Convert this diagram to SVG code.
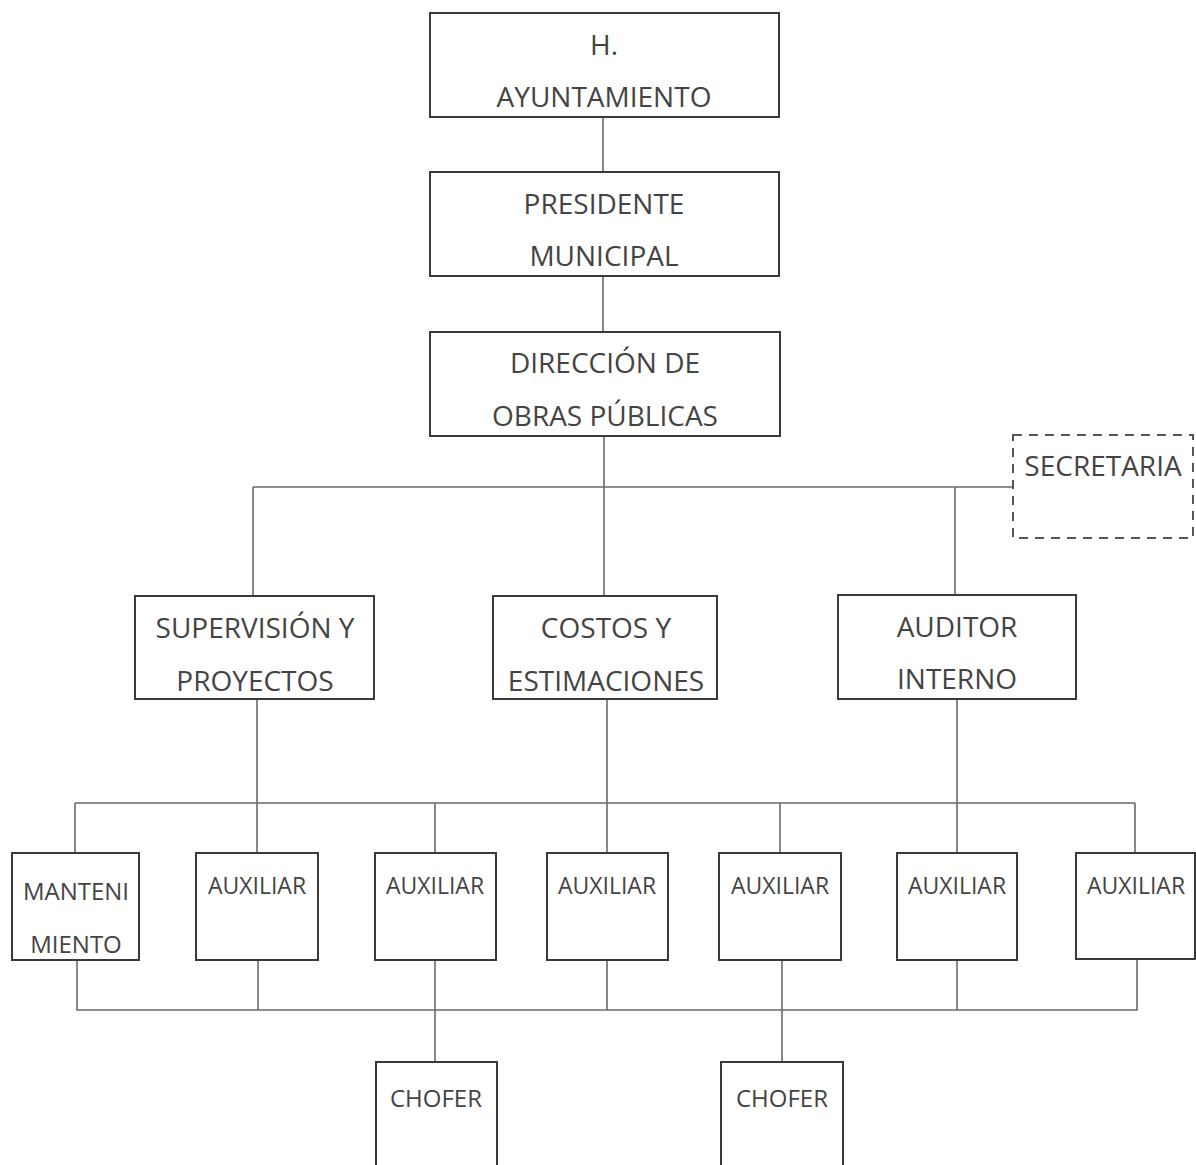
<svg xmlns="http://www.w3.org/2000/svg" width="1196" height="1165" viewBox="0 0 1196 1165">
<style>
.box{fill:#fff;stroke:#3a3a3a;stroke-width:2}
.dash{fill:#fff;stroke:#555;stroke-width:2;stroke-dasharray:9 7}
.t{font-family:"Open Sans","Liberation Sans",sans-serif;fill:#444;text-anchor:middle}
.l{font-size:28px}
.s{font-size:23px}
.m{font-size:24px}
#connectors path{fill:none;stroke:#6a6a6a;stroke-width:1.6}
</style>
<rect width="1196" height="1165" fill="#fff"/>
<g id="connectors">
<path d="M603 117V172M603 276V332M604 436V597"/>
<path d="M253 487H1013M253 487V596M955 487V595"/>
<path d="M257 699V853M607 699V853M957 699V853"/>
<path d="M75 803H1135M75 803V853M435 803V853M780 803V853M1135 803V853"/>
<path d="M77 960V1010H1137V958M258 960V1010M607 960V1010M957 960V1010"/>
<path d="M435 960V1062M782 960V1062"/>
</g>
<g id="n-ayuntamiento"><rect class="box" x="430" y="13" width="349" height="104"/><text class="t l" x="604" y="55">H.</text><text class="t l" x="604" y="107">AYUNTAMIENTO</text></g>
<g id="n-presidente"><rect class="box" x="430" y="172" width="349" height="104"/><text class="t l" x="604" y="214">PRESIDENTE</text><text class="t l" x="604" y="266">MUNICIPAL</text></g>
<g id="n-direccion"><rect class="box" x="430" y="332" width="350" height="104"/><text class="t l" x="605" y="373">DIRECCIÓN DE</text><text class="t l" x="605" y="426">OBRAS PÚBLICAS</text></g>
<g id="n-secretaria"><rect class="dash" x="1013" y="435" width="180" height="103"/><text class="t l" x="1103" y="476">SECRETARIA</text></g>
<g id="n-supervision"><rect class="box" x="135" y="596" width="239" height="103"/><text class="t l" x="255" y="638">SUPERVISIÓN Y</text><text class="t l" x="255" y="691">PROYECTOS</text></g>
<g id="n-costos"><rect class="box" x="493" y="596" width="224" height="103"/><text class="t l" x="606" y="638">COSTOS Y</text><text class="t l" x="606" y="691">ESTIMACIONES</text></g>
<g id="n-auditor"><rect class="box" x="838" y="595" width="238" height="104"/><text class="t l" x="957" y="637">AUDITOR</text><text class="t l" x="957" y="689">INTERNO</text></g>
<g id="n-mantenimiento"><rect class="box" x="12" y="853" width="127" height="107"/><text class="t m" x="76" y="900">MANTENI</text><text class="t m" x="76" y="953">MIENTO</text></g>
<g id="n-aux1"><rect class="box" x="196" y="853" width="122" height="107"/><text class="t s" x="257" y="894">AUXILIAR</text></g>
<g id="n-aux2"><rect class="box" x="375" y="853" width="121" height="107"/><text class="t s" x="435" y="894">AUXILIAR</text></g>
<g id="n-aux3"><rect class="box" x="547" y="853" width="121" height="107"/><text class="t s" x="607" y="894">AUXILIAR</text></g>
<g id="n-aux4"><rect class="box" x="719" y="853" width="122" height="107"/><text class="t s" x="780" y="894">AUXILIAR</text></g>
<g id="n-aux5"><rect class="box" x="897" y="853" width="120" height="107"/><text class="t s" x="957" y="894">AUXILIAR</text></g>
<g id="n-aux6"><rect class="box" x="1076" y="853" width="119" height="106"/><text class="t s" x="1136" y="894">AUXILIAR</text></g>
<g id="n-chofer1"><rect class="box" x="376" y="1062" width="121" height="130"/><text class="t m" x="436" y="1107">CHOFER</text></g>
<g id="n-chofer2"><rect class="box" x="721" y="1062" width="122" height="130"/><text class="t m" x="782" y="1107">CHOFER</text></g>
</svg>
